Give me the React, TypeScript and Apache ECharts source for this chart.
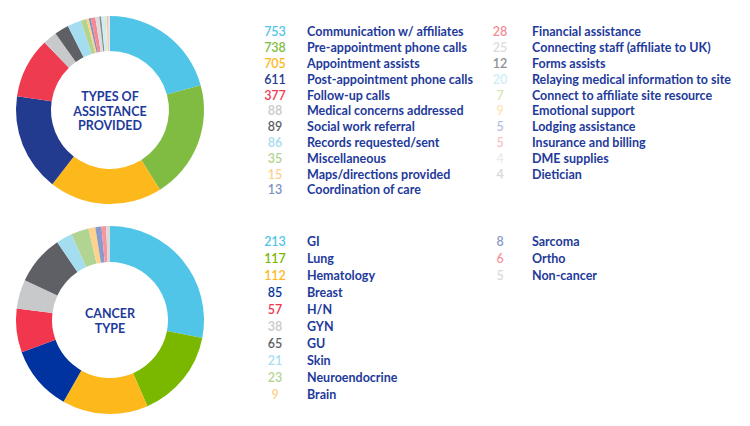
import { useEffect, useRef } from 'react';
import * as echarts from 'echarts';

const assistNames = [
  'Communication w/ affiliates',
  'Pre-appointment phone calls',
  'Appointment assists',
  'Post-appointment phone calls',
  'Follow-up calls',
  'Medical concerns addressed',
  'Social work referral',
  'Records requested/sent',
  'Miscellaneous',
  'Maps/directions provided',
  'Coordination of care',
  'Financial assistance',
  'Connecting staff (affiliate to UK)',
  'Forms assists',
  'Relaying medical information to site',
  'Connect to affiliate site resource',
  'Emotional support',
  'Lodging assistance',
  'Insurance and billing',
  'DME supplies',
  'Dietician',
];
const assistValues = [753, 738, 705, 611, 377, 88, 89, 86, 35, 15, 13, 28, 25, 12, 20, 7, 9, 5, 5, 4, 4];
const assistColors = [
  '#50c5e8', '#80bc41', '#fdb81c', '#233b8f', '#ef3b4f', '#c8c9cb', '#5e6065',
  '#a5ddf0', '#b2d48f', '#fdd28a', '#7f90c2', '#f58a94', '#dcdcdc', '#8d8e91',
  '#cdeef8', '#d3e6bd', '#fde3b6', '#b8c1de', '#f9c1c5', '#ebebeb', '#d8d8d8',
];

const cancerNames = [
  'GI', 'Lung', 'Hematology', 'Breast', 'H/N', 'GYN', 'GU', 'Skin',
  'Neuroendocrine', 'Brain', 'Sarcoma', 'Ortho', 'Non-cancer',
];
const cancerValues = [213, 117, 112, 85, 57, 38, 65, 21, 23, 9, 8, 6, 5];
const cancerColors = [
  '#50c5e8', '#7ab800', '#fdb81c', '#0033a0', '#f1364e', '#c8c9cb', '#5e6066',
  '#a5ddf0', '#b2d492', '#fdd28c', '#8a9bcb', '#f7959e', '#d9d9d9',
];

const assistTitle = ['TYPES OF', 'ASSISTANCE', 'PROVIDED'];
const cancerTitle = ['CANCER', 'TYPE'];

const LABEL_BLUE = '#1e3a9a';
const FONT = 'Lato, "Noto Sans", sans-serif';

function legendBlock(
  names: string[],
  values: number[],
  colors: string[],
  from: number,
  to: number,
  left: number,
  top: number,
  rowHeight: number,
) {
  const rich: Record<string, object> = {
    n: {
      color: LABEL_BLUE,
      fontFamily: FONT,
      fontWeight: 'bold',
      fontSize: 12.5,
      padding: [0, 0, 0, 14],
    },
  };
  names.forEach((_, i) => {
    rich['c' + i] = {
      color: colors[i],
      fontFamily: FONT,
      fontWeight: 600,
      fontSize: 12.5,
      width: 36,
      align: 'right',
    };
  });
  return {
    orient: 'vertical' as const,
    left,
    top,
    padding: 0,
    itemGap: 0,
    itemWidth: 0,
    itemHeight: rowHeight,
    selectedMode: false,
    data: names.slice(from, to),
    formatter: (name: string) => {
      const i = names.indexOf(name);
      return `{c${i}|${values[i]}}{n|${name}}`;
    },
    textStyle: { rich },
  };
}

// centre caption of a donut, one text element per line
function caption(lines: string[], cx: number, cy: number, step: number) {
  const first = cy - ((lines.length - 1) * step) / 2;
  return lines.map((line, i) => ({
    type: 'text',
    x: cx,
    y: first + i * step,
    style: {
      text: line,
      align: 'center',
      verticalAlign: 'middle',
      fill: LABEL_BLUE,
      font: `bold 12.5px ${FONT}`,
    },
  }));
}

export default function App() {
  const chartRef = useRef<HTMLDivElement>(null);

  useEffect(() => {
    if (!chartRef.current) return;
    const chart = echarts.init(chartRef.current, undefined, { renderer: 'svg' });

    chart.setOption({
      animation: false,
      legend: [
        legendBlock(assistNames, assistValues, assistColors, 0, 11, 252, 24, 15.8),
        legendBlock(assistNames, assistValues, assistColors, 11, 21, 477, 24, 15.8),
        legendBlock(cancerNames, cancerValues, cancerColors, 0, 10, 252, 233.5, 16.9),
        legendBlock(cancerNames, cancerValues, cancerColors, 10, 13, 477, 233.5, 16.9),
      ],
      graphic: [
        ...caption(assistTitle, 110, 111, 14.5),
        ...caption(cancerTitle, 110, 321, 14.5),
      ],
      series: [
        {
          type: 'pie',
          center: [110, 110],
          radius: [59, 94],
          startAngle: 90,
          clockwise: true,
          label: { show: false },
          labelLine: { show: false },
          emphasis: { disabled: true },
          data: assistNames.map((name, i) => ({
            name,
            value: assistValues[i],
            itemStyle: { color: assistColors[i] },
          })),
        },
        {
          type: 'pie',
          center: [110, 320],
          radius: [58, 94],
          startAngle: 90,
          clockwise: true,
          label: { show: false },
          labelLine: { show: false },
          emphasis: { disabled: true },
          data: cancerNames.map((name, i) => ({
            name,
            value: cancerValues[i],
            itemStyle: { color: cancerColors[i] },
          })),
        },
      ],
    });

    return () => {
      chart.dispose();
    };
  }, []);

  return (
    <div
      ref={chartRef}
      style={{ position: 'absolute', left: 0, top: 0, width: 750, height: 426, background: '#fff' }}
    />
  );
}
